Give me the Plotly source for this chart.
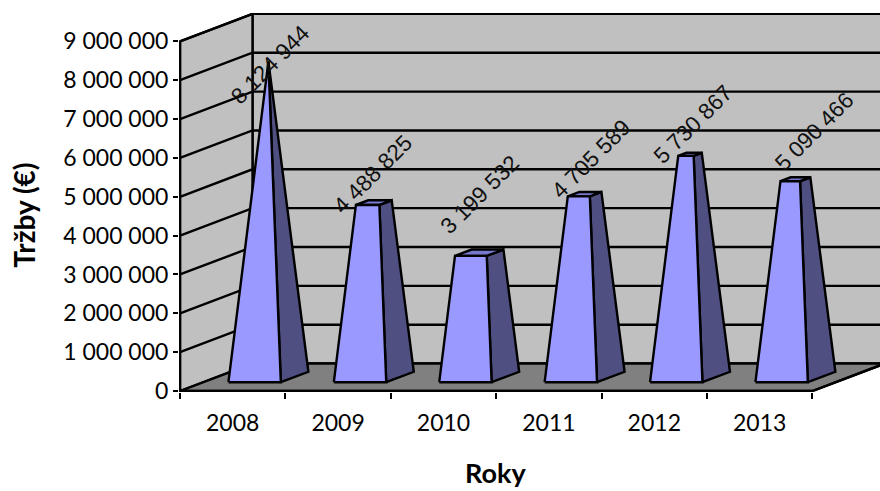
import plotly.graph_objects as go

# ---- data ----
years = ["2008", "2009", "2010", "2011", "2012", "2013"]
sales = [8124944, 4488825, 3199532, 4705589, 5730867, 5090466]
value_ticks = [0, 1000000, 2000000, 3000000, 4000000, 5000000, 6000000, 7000000, 8000000, 9000000]

# ---- oblique projection settings (pixels) ----
W, H = 880, 491
LEFT, TOP, BOTTOM_PX = 179.0, 13.0, 392.5
ORIGIN_X, ORIGIN_Y = 180.0, 391.5
CAT_PX = 105.4
MIL_PX = 38.9
DEPTH_X_PX, DEPTH_Y_PX = 72.5, 27.5
DX = DEPTH_X_PX / CAT_PX
DV = DEPTH_Y_PX / MIL_PX * 1e6
HALF_W, Z_FRONT, Z_BACK = 0.2485, 0.32, 0.70
CENTER = 0.488
LABEL_SHIFT = [(2, -3), (-1, 28), (1, 58), (6, 35), (3, 30), (19, 48)]

C_WALL, C_FLOOR = "#C0C0C0", "#808080"
C_FRONT, C_SIDE, C_TOP = "#9999FF", "#4F4F82", "#7777CC"
LW = 2.4


def proj(cat, val, z):
    return cat + z * DX, val + z * DV


def poly(points, fill=None, width=LW):
    xs, ys = zip(*[proj(*p) for p in points])
    return go.Scatter(
        x=list(xs), y=list(ys), mode="lines", hoverinfo="skip", showlegend=False,
        line=dict(color="black", width=width),
        fill="toself" if fill else None, fillcolor=fill,
    )


n = len(years)
vmax = value_ticks[-1]
peak = max(sales)
fig = go.Figure()

# walls and floor
fig.add_trace(poly([(0, 0, 1), (n, 0, 1), (n, vmax, 1), (0, vmax, 1), (0, 0, 1)], C_WALL))
fig.add_trace(poly([(0, 0, 0), (0, 0, 1), (0, vmax, 1), (0, vmax, 0), (0, 0, 0)], C_WALL))
fig.add_trace(poly([(0, 0, 0), (n, 0, 0), (n, 0, 1), (0, 0, 1), (0, 0, 0)], C_FLOOR))
for v in value_ticks[1:]:
    fig.add_trace(poly([(0, v, 0), (0, v, 1), (n, v, 1)]))

# truncated pyramids: every apex sits at the series maximum
zc = (Z_FRONT + Z_BACK) / 2
zh = (Z_BACK - Z_FRONT) / 2
annotations = []
for i, (v, shift) in enumerate(zip(sales, LABEL_SHIFT)):
    c = i + CENTER
    k = 1 - v / peak
    tw, tz = HALF_W * k, zh * k
    bfl = (c - HALF_W, 0, Z_FRONT)
    bfr = (c + HALF_W, 0, Z_FRONT)
    bbr = (c + HALF_W, 0, Z_BACK)
    tfl = (c - tw, v, zc - tz)
    tfr = (c + tw, v, zc - tz)
    tbr = (c + tw, v, zc + tz)
    tbl = (c - tw, v, zc + tz)
    fig.add_trace(poly([bfr, bbr, tbr, tfr, bfr], C_SIDE))
    fig.add_trace(poly([tfl, tfr, tbr, tbl, tfl], C_TOP))
    fig.add_trace(poly([bfl, bfr, tfr, tfl, bfl], C_FRONT))
    ax, ay = proj(c, v, zc)
    annotations.append(dict(
        x=ax, y=ay, xref="x", yref="y", text=f"{v:,}".replace(",", " "), showarrow=False,
        textangle=-45, xshift=shift[0], yshift=shift[1],
        font=dict(family="Liberation Sans", size=22.5, color="#111111"),
    ))

# axis lines drawn on top of the walls
fig.add_trace(poly([(0, vmax, 0), (0, 0, 0), (n, 0, 0)]))
fig.add_trace(poly([(n, 0, 0), (n, 0, 1)]))

annotations += [
    dict(text="<b>Roky</b>", x=495, y=H - 473, xref="paper", yref="paper", showarrow=False,
         xanchor="center", yanchor="middle",
         font=dict(family="Lato", size=27, color="black")),
    dict(text="<b>Tržby (€)</b>", x=24, y=H - 216, xref="paper", yref="paper", showarrow=False,
         xanchor="center", yanchor="middle",
         textangle=-90, font=dict(family="Lato", size=28, color="black")),
]
plot_w, plot_h = W - LEFT, BOTTOM_PX - TOP
for a in annotations[-2:]:
    a["x"] = (a["x"] - LEFT) / plot_w
    a["y"] = (a["y"] - (H - BOTTOM_PX)) / plot_h

fig.update_layout(
    width=W, height=H, autosize=False,
    margin=dict(l=LEFT, r=0, t=TOP, b=H - BOTTOM_PX, pad=0),
    paper_bgcolor="white", plot_bgcolor="white",
    separators=". ",
    annotations=annotations,
    xaxis=dict(
        range=[(LEFT - ORIGIN_X) / CAT_PX, (W - ORIGIN_X) / CAT_PX],
        tickmode="array", tickvals=[i + 0.5 for i in range(n)], ticktext=years,
        ticks="", ticklabelstandoff=15, showgrid=False, zeroline=False, showline=False,
        tickfont=dict(family="Lato", size=23, color="black"),
        minor=dict(tickmode="array", tickvals=list(range(n + 1)), ticks="outside", ticklen=6,
                   tickwidth=2, tickcolor="black", showgrid=False),
    ),
    yaxis=dict(
        range=[(ORIGIN_Y - BOTTOM_PX) / MIL_PX * 1e6, (ORIGIN_Y - TOP) / MIL_PX * 1e6],
        tickmode="array", tickvals=value_ticks, tickformat=",d",
        ticks="outside", ticklen=5, tickwidth=2, tickcolor="black",
        showgrid=False, zeroline=False, showline=False,
        tickfont=dict(family="Lato", size=23, color="black"),
    ),
)
fig.write_html("out.html", post_script="document.body.style.margin='0';",
               config={"displayModeBar": False})
